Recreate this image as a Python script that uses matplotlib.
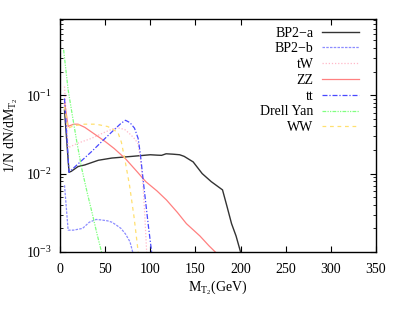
import numpy as np
import matplotlib
matplotlib.use("Agg")
import matplotlib.pyplot as plt

plt.rcParams['font.family'] = ['Liberation Serif', 'DejaVu Serif']
plt.rcParams['mathtext.fontset'] = 'custom'
plt.rcParams['mathtext.rm'] = 'Liberation Serif'
plt.rcParams['mathtext.it'] = 'Liberation Serif:italic'

# MT2 distributions (x in GeV, y = 1/N dN/dMT2)
bp2a_x = [5, 10, 12.5, 20, 27.5, 42.5, 57.5, 80, 100, 107.5, 112.5, 117.5, 125, 132.5, 137.5, 147.5, 157.5, 167.5, 180, 185, 190, 195, 200]
bp2a_y = [0.0646, 0.0104, 0.0107, 0.0123, 0.0129, 0.0148, 0.0158, 0.0166, 0.0174, 0.0172, 0.0171, 0.0179, 0.0177, 0.0174, 0.0166, 0.0141, 0.0100, 0.0079, 0.0062, 0.0038, 0.0023, 0.0016, 0.0010]

bp2b_x = [5, 9, 15, 20, 25, 32.5, 40, 45, 52.5, 57.5, 62.5, 67.5, 72.5, 77.5, 80.5]
bp2b_y = [0.0071, 0.0019, 0.0019, 0.00195, 0.0020, 0.0024, 0.0026, 0.00257, 0.0025, 0.0024, 0.0022, 0.0020, 0.0017, 0.00135, 0.0010]

tw_x = [5, 9, 20, 35, 50, 60.5, 66.5, 72, 78, 83, 86.5, 89, 92, 94, 96]
tw_y = [0.129, 0.0214, 0.0245, 0.0282, 0.0339, 0.0380, 0.0380, 0.0363, 0.0316, 0.0275, 0.0240, 0.0158, 0.0071, 0.0028, 0.0010]

zz_x = [5, 9, 15, 20, 27.5, 35, 50, 60, 72.5, 85, 95, 107.5, 118, 130, 140, 155, 165, 172]
zz_y = [0.083, 0.040, 0.0427, 0.0427, 0.0389, 0.0339, 0.0257, 0.0209, 0.0155, 0.0107, 0.0079, 0.0060, 0.0046, 0.0032, 0.0023, 0.0016, 0.0012, 0.0010]

tt_x = [5, 10, 20, 35, 50, 60, 67.5, 72.5, 77.5, 82.5, 86.5, 89, 92, 95, 98, 101.5]
tt_y = [0.091, 0.0104, 0.0133, 0.0191, 0.0282, 0.0363, 0.0437, 0.0479, 0.0447, 0.0380, 0.0282, 0.0178, 0.0085, 0.0042, 0.0021, 0.0010]

dy_x = [4, 9, 14, 19, 24, 30, 36, 41, 46]
dy_y = [0.380, 0.1175, 0.0525, 0.0240, 0.0117, 0.0058, 0.0030, 0.0017, 0.0010]

ww_x = [5, 9, 15, 27, 40, 53, 60.5, 64, 68, 72, 77, 82, 86.6]
ww_y = [0.071, 0.038, 0.0407, 0.0427, 0.0427, 0.0398, 0.0355, 0.0339, 0.0251, 0.0148, 0.0071, 0.0028, 0.0010]

fig = plt.figure(figsize=(4.02, 3.19), dpi=100)
ax = fig.add_axes([60/402, 67/319, 316/402, 232.7/319])

ax.plot(bp2a_x, bp2a_y, color='#333333', lw=1.0, ls='-', label='BP2\u2212a')
ax.plot(bp2b_x, bp2b_y, color='#8c8cff', lw=0.9, ls=(0, (2, 1)), label='BP2\u2212b')
ax.plot(tw_x, tw_y, color='#ffb8c8', lw=0.9, ls=(0, (1, 1.5)), label='tW')
ax.plot(zz_x, zz_y, color='#ff8080', lw=0.9, ls='-', label='ZZ')
ax.plot(tt_x, tt_y, color='#4848ff', lw=0.9, ls=(0, (4, 1.5, 1, 1.5)), label='tt')
ax.plot(dy_x, dy_y, color='#80ff80', lw=0.9, ls=(0, (3, 1, 1, 1, 1, 1)), label='Drell Yan')
ax.plot(ww_x, ww_y, color='#ffe070', lw=0.9, ls=(0, (3, 3)), label='WW')

ax.set_yscale('log')
ax.set_xlim(0, 350)
ax.set_ylim(1e-3, 0.93)
ax.set_xticks(np.arange(0, 351, 50))
ax.tick_params(which='both', direction='in', top=True, right=True, labelsize=10)
ax.tick_params(which='major', length=4.5, pad=8)
ax.tick_params(which='minor', length=2.5)
ax.tick_params(axis='y', which='major', pad=6)
for s in ax.spines.values():
    s.set_linewidth(1.0)

# the key hides the top tick at 250
for loc, tk in zip(ax.get_xticks(), ax.xaxis.get_major_ticks()):
    if loc == 250:
        tk.tick2line.set_visible(False)

ax.set_xlabel('M$_{\\mathrm{T}_2}$(GeV)', fontsize=10, labelpad=2)
ax.set_ylabel('1/N dN/dM$_{\\mathrm{T}_2}$', fontsize=10, labelpad=4)

ax.legend(loc='upper right', bbox_to_anchor=(0.947, 0.969), frameon=False,
          markerfirst=False, fontsize=10, handlelength=2.7, handletextpad=0.6,
          labelspacing=0.2, borderpad=0, borderaxespad=0)

fig.savefig('out.png', dpi=100)
